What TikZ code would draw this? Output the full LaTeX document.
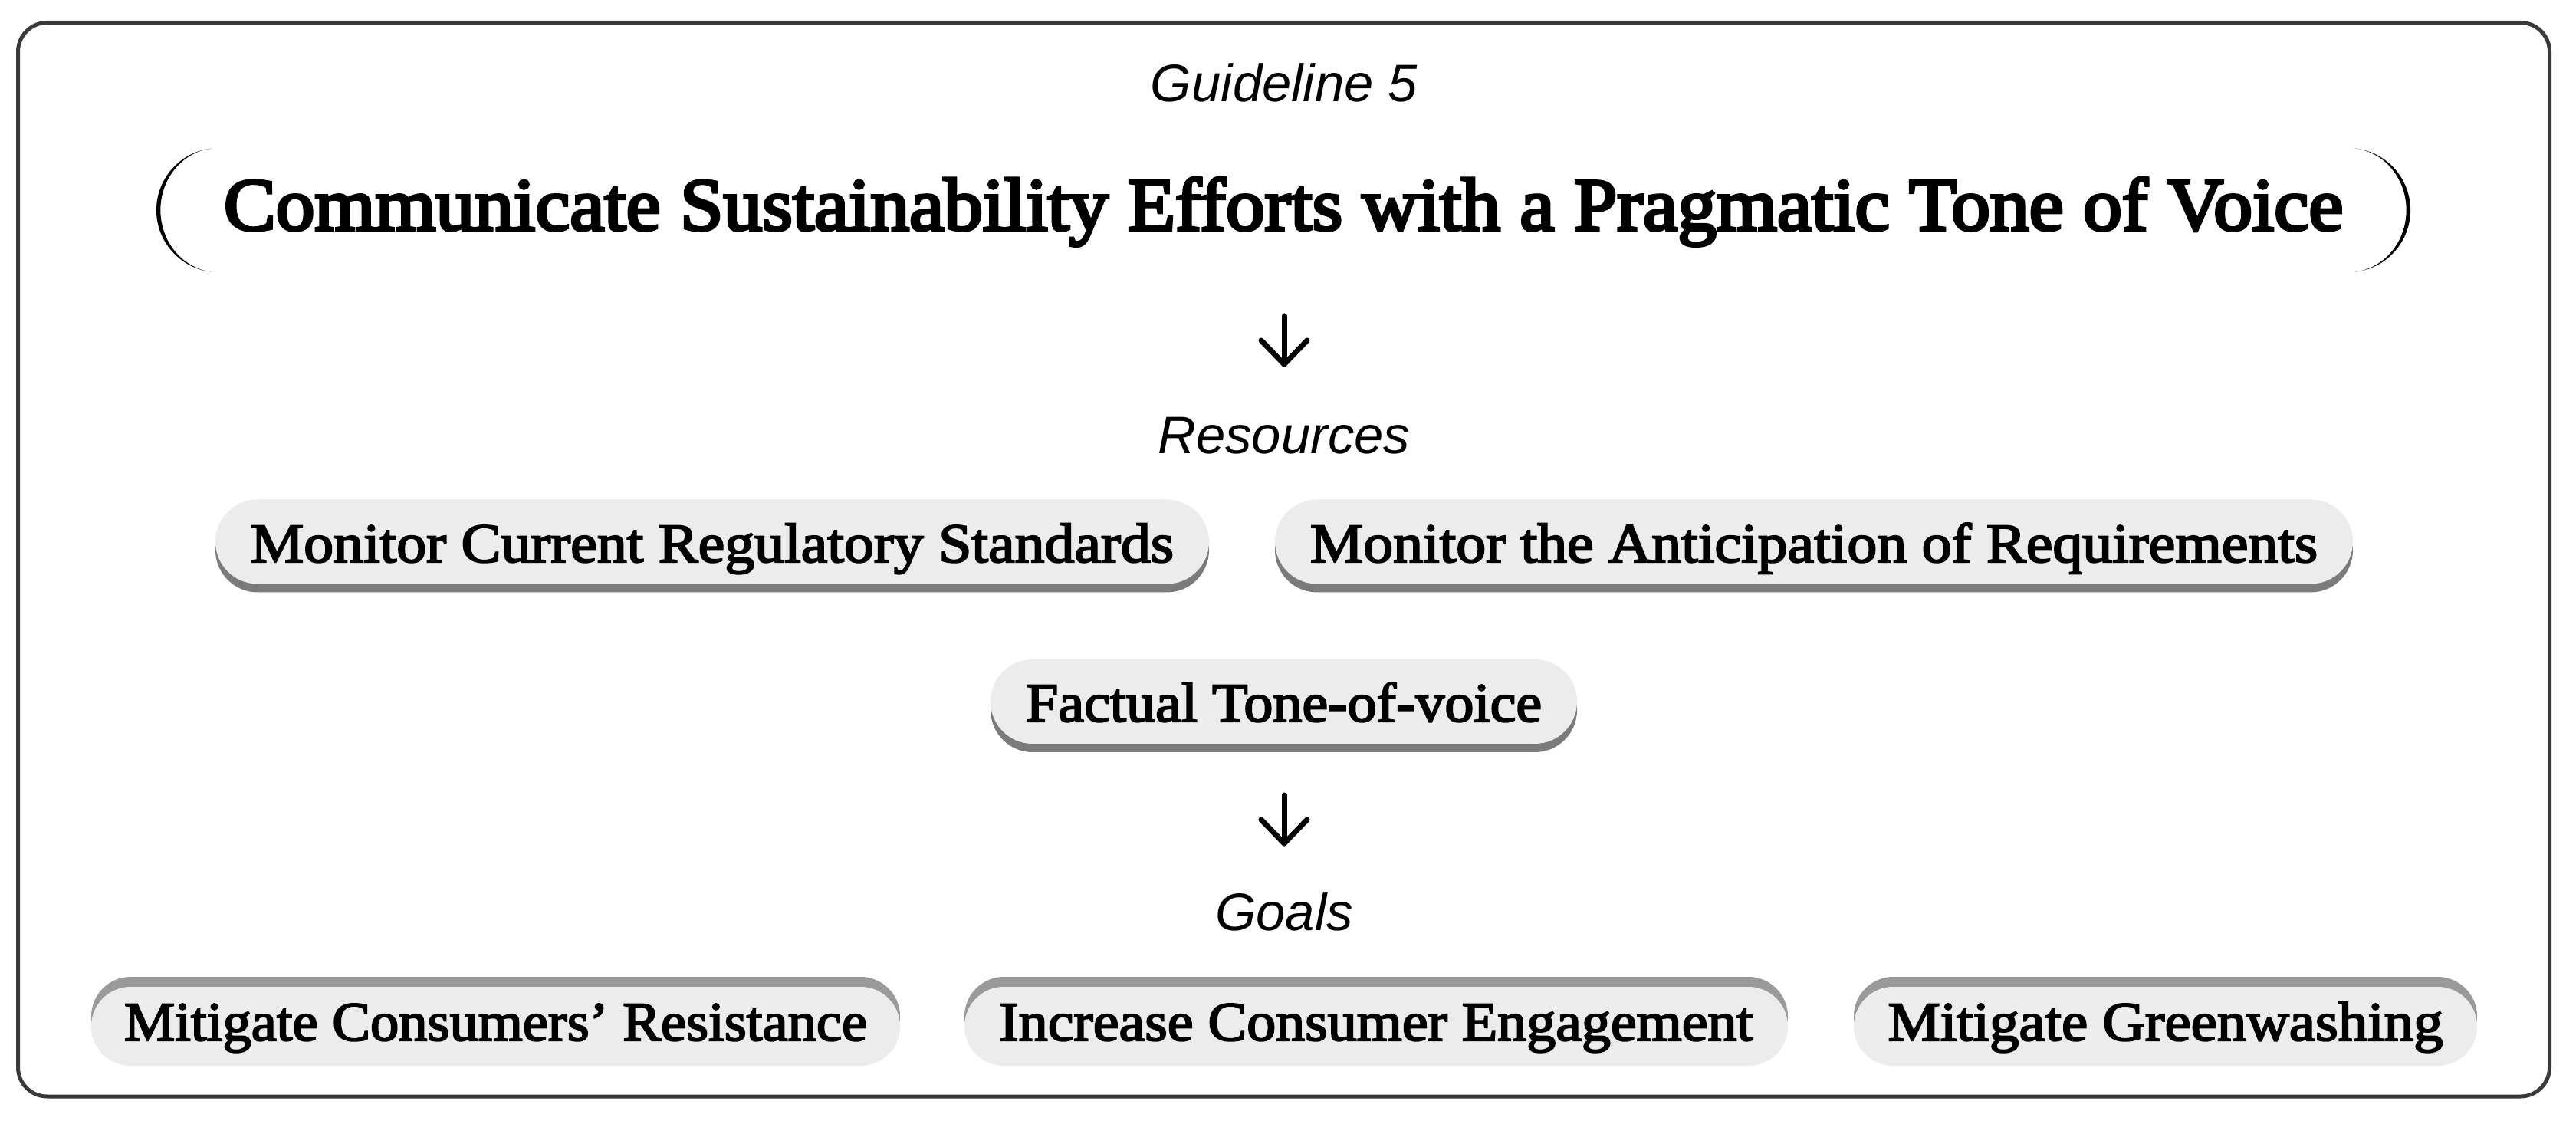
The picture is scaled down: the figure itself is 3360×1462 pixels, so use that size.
\documentclass[tikz,border=0pt]{standalone}
\usepackage{fontspec}
\usepackage{graphicx}
\setmainfont{Liberation Serif}
\newfontfamily\labfont{Liberation Sans}
\newfontfamily\titlefont[FakeBold=4]{Liberation Serif}
\newfontfamily\pillfont[FakeBold=2.8]{Liberation Serif}
\usetikzlibrary{shadows}
\definecolor{pillfill}{HTML}{ECECEC}
\definecolor{shdark}{HTML}{7B7B7B}
\definecolor{shlight}{HTML}{9A9A9A}
\definecolor{framecol}{HTML}{3A3A3A}
\newcommand{\fitw}[2]{\resizebox{#1}{\height}{#2}}
\begin{document}
\begin{tikzpicture}[x={(0.25pt,0pt)}, y={(0pt,-0.25pt)},
  pillbase/.style={rectangle, fill=pillfill, inner sep=0pt, rounded corners=#1,
    font=\pillfont\fontsize{18.1pt}{22pt}\selectfont, text depth=0pt},
  pillR/.style={pillbase=13.75pt, minimum height=27.5pt, text height=13.25pt,
    drop shadow={shadow xshift=0pt, shadow yshift=-2.75pt, fill=shdark, opacity=1}},
  pillF/.style={pillbase=13.75pt, minimum height=27.5pt, text height=13pt,
    drop shadow={shadow xshift=0pt, shadow yshift=-2.75pt, fill=shdark, opacity=1}},
  pillG/.style={pillbase=12.875pt, minimum height=25.75pt, text height=9.25pt,
    drop shadow={shadow xshift=0pt, shadow yshift=3.25pt, fill=shlight, opacity=1}},
  lab/.style={anchor=base, inner sep=0pt, font=\labfont\itshape\fontsize{17.2pt}{20pt}\selectfont},
  arrowline/.style={line width=1.75pt, line cap=round, line join=round},
]
\fill[white] (0,0) rectangle (3360,1462);
\useasboundingbox (0,0) rectangle (3360,1462);

% outer frame
\draw[framecol, line width=1.25pt, rounded corners=9.5pt] (23.5,29.5) rectangle (3325.5,1430);

% heading
\node[lab] (guide) at (1675,133) {Guideline 5};
\node[anchor=base, inner sep=0pt, font=\titlefont\fontsize{24.4pt}{28pt}\selectfont] (title) at (1674,300)
  {\fitw{691pt}{Communicate Sustainability Efforts with a Pragmatic Tone of Voice}};
% bracket ends of the title
\fill (276.5,354.6) arc[start angle=96, end angle=264, radius=81]
  arc[start angle=264, end angle=96, x radius=75, y radius=81] -- cycle;
\fill (3071.5,354.6) arc[start angle=84, end angle=-84, radius=81]
  arc[start angle=-84, end angle=84, x radius=75, y radius=81] -- cycle;

% arrow 1
\coordinate (a1s) at (1675,412);
\coordinate (a1e) at (1675,475);
\draw[arrowline] (a1s) -- (a1e);
\draw[arrowline] (a1e) ++(-30,-31) -- (a1e) -- ++(30,-31);

\node[lab] (res) at (1675,592) {Resources};

% resources
\node[pillR, minimum width=324pt] (r1) at (929,706.5) {\fitw{301pt}{Monitor Current Regulatory Standards}};
\node[pillR, minimum width=351.5pt] (r2) at (2366,706.5) {\fitw{328.5pt}{Monitor the Anticipation of Requirements}};
\node[pillF, minimum width=191.25pt] (f1) at (1674.5,915) {\fitw{168.25pt}{Factual Tone-of-voice}};

% arrow 2
\coordinate (a2s) at (1675,1037);
\coordinate (a2e) at (1675,1100);
\draw[arrowline] (a2s) -- (a2e);
\draw[arrowline] (a2e) ++(-30,-31) -- (a2e) -- ++(30,-31);

\node[lab] (goals) at (1675,1213) {Goals};

% goals
\node[pillG, minimum width=263.75pt] (g1) at (646.5,1338.5) {\fitw{242.25pt}{Mitigate Consumers’ Resistance}};
\node[pillG, minimum width=268.5pt] (g2) at (1795,1338.5) {\fitw{245.75pt}{Increase Consumer Engagement}};
\node[pillG, minimum width=203.25pt] (g3) at (2824.5,1338.5) {\fitw{181pt}{Mitigate Greenwashing}};
\end{tikzpicture}
\end{document}
